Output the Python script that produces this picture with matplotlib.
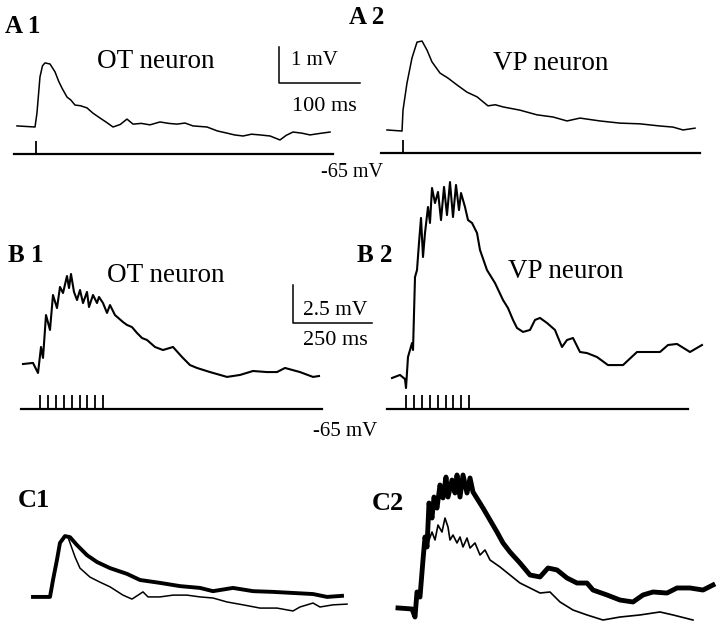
import matplotlib
matplotlib.use("Agg")
import matplotlib.pyplot as plt

W, H = 720, 627
SERIF = "Liberation Serif"

# ---- data: time in ms from first stimulus, membrane potential in mV ----

# A: single stimulus, OT and VP neurons
a1_t = [-23.5, -1.2, 1.2, 4.9, 8.0, 11.1, 17.3, 23.5, 28.0, 32.1, 38.3, 43.0, 48.1, 55.0, 63.0,
        70.0, 79.0, 87.0, 95.1, 104.0, 112.3, 119.8, 130.0, 140.7, 153.1, 164.0, 174.1, 184.0,
        193.8, 211.1, 224.0, 235.8, 245.0, 255.6, 266.0, 276.5, 289.0, 301.2, 309.0, 317.3,
        328.0, 338.3, 350.0, 363.0]
a1_v = [-64.22, -64.25, -63.86, -62.86, -62.55, -62.47, -62.50, -62.72, -62.98, -63.17, -63.42,
        -63.50, -63.64, -63.66, -63.72, -63.86, -64.00, -64.12, -64.25, -64.18, -64.03, -64.17,
        -64.15, -64.19, -64.11, -64.15, -64.17, -64.14, -64.22, -64.25, -64.36, -64.42, -64.47,
        -64.50, -64.45, -64.47, -64.50, -64.61, -64.48, -64.39, -64.42, -64.47, -64.43, -64.39]

a2_t = [-19.8, -1.2, 0.0, 4.9, 11.1, 17.3, 23.5, 29.6, 35.8, 45.7, 55.6, 66.7, 79.0, 91.4,
        104.9, 114.0, 123.5, 144.4, 165.4, 185.2, 202.5, 218.5, 243.2, 267.9, 292.6, 317.3,
        333.3, 345.7, 360.5]
a2_v = [-64.36, -64.39, -63.81, -63.06, -62.36, -61.92, -61.89, -62.14, -62.47, -62.78, -62.92,
        -63.11, -63.31, -63.44, -63.69, -63.66, -63.72, -63.81, -63.94, -64.00, -64.11, -64.03,
        -64.11, -64.17, -64.19, -64.25, -64.28, -64.36, -64.31]

# B: train of 9 stimuli at 40 Hz
b1_t = [-53.8, -22.2, -6.3, 3.2, 9.5, 19.0, 31.6, 41.1, 53.8, 63.3, 72.8, 85.4, 91.8, 98.1,
        107.6, 117.1, 126.6, 136.1, 148.7, 155.1, 167.7, 180.4, 186.7, 199.4, 212.0, 221.5,
        237.3, 262.7, 275.3, 291.1, 307.0, 322.8, 338.6, 363.9, 389.2, 420.9, 449.4, 474.7,
        496.8, 538.0, 591.8, 632.9, 674.1, 718.4, 750.0, 775.3, 822.8, 863.9, 882.9]
b1_v = [-62.04, -61.97, -62.63, -60.92, -61.64, -58.82, -59.80, -57.50, -58.36, -56.97, -57.37,
        -56.25, -57.04, -56.12, -57.30, -57.83, -57.17, -58.03, -57.30, -58.29, -57.50, -58.03,
        -57.63, -58.03, -58.68, -58.16, -58.82, -59.28, -59.47, -59.61, -60.00, -60.33, -60.46,
        -60.92, -61.12, -60.92, -61.58, -62.11, -62.30, -62.57, -62.89, -62.76, -62.50, -62.57,
        -62.57, -62.30, -62.57, -62.89, -62.83]

b2_t = [-44.3, -19.0, -3.2, 0.0, 6.3, 19.0, 22.2, 28.5, 34.8, 41.1, 47.5, 53.8, 60.1, 69.6,
        75.9, 82.3, 91.8, 101.3, 110.8, 120.3, 129.7, 139.2, 148.7, 158.2, 167.7, 174.1, 186.7,
        196.2, 208.9, 224.7, 234.2, 256.3, 281.6, 307.0, 322.8, 338.6, 351.3, 370.3, 392.4,
        408.2, 424.1, 446.2, 471.5, 477.8, 493.7, 509.5, 528.5, 550.6, 572.8, 604.4, 639.2,
        686.7, 731.0, 762.7, 803.8, 829.1, 857.6, 898.7, 936.7]
b2_v = [-62.96, -62.76, -63.03, -63.62, -61.58, -60.66, -61.12, -56.32, -55.86, -54.08, -52.43,
        -55.00, -53.42, -51.71, -52.76, -50.46, -51.45, -50.72, -52.57, -50.39, -52.24, -50.07,
        -52.37, -50.26, -51.91, -50.79, -51.71, -52.57, -52.76, -53.42, -54.54, -55.86, -56.71,
        -57.83, -58.36, -59.14, -59.67, -59.93, -59.80, -59.14, -59.01, -59.34, -59.80, -60.13,
        -60.92, -60.46, -60.33, -61.25, -61.32, -61.58, -62.11, -62.11, -61.25, -61.25, -61.25,
        -60.79, -60.72, -61.25, -60.79]

# C: superimposed responses (thick and thin traces)
c1_thick_t = [-21.0, 0.0, 3.7, 8.6, 12.3, 18.5, 24.7, 33.3, 45.7, 58.0, 74.1, 95.1, 111.1,
              135.8, 160.5, 185.2, 201.2, 225.9, 250.6, 275.3, 300.0, 324.7, 342.0, 360.5]
c1_thick_v = [-64.22, -64.22, -63.75, -63.19, -62.72, -62.53, -62.56, -62.78, -63.06, -63.25,
              -63.42, -63.58, -63.75, -63.83, -63.92, -63.97, -64.06, -63.97, -64.06, -64.08,
              -64.11, -64.14, -64.22, -64.19]
c1_thin_t = [-21.0, 0.0, 3.7, 8.6, 12.3, 18.5, 22.2, 30.9, 37.0, 49.4, 61.7, 74.1, 90.1, 101.2,
             107.4, 114.8, 121.0, 135.8, 151.9, 169.1, 185.2, 201.2, 218.5, 238.3, 259.3, 280.2,
             300.0, 308.6, 324.7, 333.3, 349.4, 366.7]
c1_thin_v = [-64.22, -64.22, -63.75, -63.19, -62.72, -62.53, -62.56, -63.11, -63.42, -63.67,
             -63.81, -63.94, -64.17, -64.28, -64.19, -64.08, -64.22, -64.22, -64.17, -64.17,
             -64.22, -64.25, -64.36, -64.44, -64.53, -64.53, -64.61, -64.50, -64.39, -64.50,
             -64.44, -64.42]

c2_thick_t = [-53.8, -9.5, 0.0, 6.3, 15.8, 25.3, 31.6, 38.0, 44.3, 53.8, 60.1, 69.6, 79.1, 88.6,
              98.1, 104.4, 117.1, 126.6, 132.9, 142.4, 151.9, 164.6, 174.1, 183.5, 199.4, 215.2,
              237.3, 259.5, 278.5, 300.6, 332.3, 363.9, 395.6, 420.9, 449.4, 481.0, 512.7, 544.3,
              563.3, 607.6, 648.7, 689.9, 721.5, 753.2, 797.5, 829.1, 870.3, 911.4, 943.0]
c2_thick_v = [-62.86, -62.96, -63.74, -61.31, -61.80, -58.20, -55.97, -56.94, -52.67, -54.13,
              -52.09, -53.16, -50.92, -52.18, -50.15, -52.09, -50.44, -51.70, -49.95, -52.09,
              -49.95, -51.70, -50.24, -51.60, -52.38, -53.16, -54.32, -55.49, -56.55, -57.43,
              -58.50, -59.66, -59.85, -58.98, -59.17, -59.95, -60.44, -60.44, -61.12, -61.60,
              -62.09, -62.28, -61.60, -61.31, -61.41, -60.92, -60.92, -61.12, -60.63]
c2_thin_t = [-53.8, -9.5, 0.0, 6.3, 15.8, 25.3, 31.6, 41.1, 53.8, 63.3, 72.8, 85.4, 94.9, 104.4,
             110.8, 120.3, 132.9, 142.4, 151.9, 164.6, 174.1, 189.9, 205.7, 221.5, 237.3, 269.0,
             300.6, 332.3, 363.9, 395.6, 427.2, 458.9, 500.0, 544.3, 594.9, 648.7, 712.0, 775.3,
             816.5, 879.7]
c2_thin_v = [-62.86, -62.96, -63.74, -61.31, -61.80, -58.20, -55.97, -56.55, -55.49, -56.26,
             -54.81, -55.49, -54.13, -55.00, -56.26, -55.78, -56.55, -55.97, -56.94, -56.07,
             -57.04, -56.55, -57.72, -57.23, -58.20, -58.88, -59.66, -60.44, -60.92, -61.41,
             -61.31, -62.28, -63.06, -63.54, -64.03, -63.74, -63.54, -63.25, -63.54, -64.03]

# stimulus times and sweep extent of the -65 mV reference line
stim_a = [0]
stim_b = [0, 25, 50, 75, 100, 125, 150, 175, 200]
sweep_a = (-27, 367)
sweep_b = (-60, 892)
v_rest = -65


fig = plt.figure(figsize=(W / 100, H / 100), dpi=100)


def panel_axes(stim_x, ref_y, px_per_ms, px_per_mv):
    # full-figure axes whose data units are ms / mV, anchored on the stimulus and -65 mV line
    ax = fig.add_axes([0, 0, 1, 1])
    ax.set_xlim(-stim_x / px_per_ms, (W - stim_x) / px_per_ms)
    ax.set_ylim(v_rest + (ref_y - H) / px_per_mv, v_rest + ref_y / px_per_mv)
    ax.axis("off")
    ax.patch.set_alpha(0)
    return ax


ka, kva = 0.81, 36.0      # A and C1: px per ms, px per mV
kb, kvb = 0.316, 15.2     # B
kvc2 = 10.3               # C2 vertical

ax_a1 = panel_axes(36, 154, ka, kva)
ax_a2 = panel_axes(403, 153, ka, kva)
ax_b1 = panel_axes(40, 409, kb, kvb)
ax_b2 = panel_axes(406, 409, kb, kvb)
ax_c1 = panel_axes(50, 625, ka, kva)
ax_c2 = panel_axes(415, 630, kb, kvc2)

# A traces
for ax, t, v in [(ax_a1, a1_t, a1_v), (ax_a2, a2_t, a2_v)]:
    ax.plot(t, v, color="black", lw=1.1)
    ax.plot(sweep_a, [v_rest, v_rest], color="black", lw=1.6)
    ax.vlines(stim_a, v_rest, v_rest + 0.36, color="black", lw=1.3)

# B traces
for ax, t, v in [(ax_b1, b1_t, b1_v), (ax_b2, b2_t, b2_v)]:
    ax.plot(t, v, color="black", lw=1.5)
    ax.plot(sweep_b, [v_rest, v_rest], color="black", lw=1.6)
    ax.vlines(stim_b, v_rest, v_rest + 0.92, color="black", lw=1.3)

# C traces
ax_c1.plot(c1_thin_t, c1_thin_v, color="black", lw=1.1)
ax_c1.plot(c1_thick_t, c1_thick_v, color="black", lw=2.8)
ax_c2.plot(c2_thin_t, c2_thin_v, color="black", lw=1.2)
ax_c2.plot(c2_thick_t, c2_thick_v, color="black", lw=3.5)

# scale bars
ax_a1.plot([300, 300, 400], [-62.03, -63.03, -63.03], color="black", lw=1.1, clip_on=False)
ax_b1.plot([800.6, 800.6, 1050.6], [-56.84, -59.34, -59.34], color="black", lw=1.1, clip_on=False)

# text layer in pixel coordinates
tx = fig.add_axes([0, 0, 1, 1])
tx.set_xlim(0, W)
tx.set_ylim(H, 0)
tx.axis("off")
tx.patch.set_alpha(0)


def label(x, y, s, size, bold=False):
    tx.text(x, y, s, fontsize=size, family=SERIF, fontweight="bold" if bold else "normal",
            ha="left", va="baseline")


label(5, 33, "A 1", 18, True)
label(349, 24, "A 2", 18, True)
label(8, 262, "B 1", 18, True)
label(357, 262, "B 2", 18, True)
label(18, 507, "C1", 19, True)
label(372, 510, "C2", 19, True)

label(97, 68, "OT neuron", 19.5)
label(493, 70, "VP neuron", 19.5)
label(107, 282, "OT neuron", 19.5)
label(508, 278, "VP neuron", 19.5)

label(291, 65, "1 mV", 15)
label(292, 111, "100 ms", 16)
label(303, 315, "2.5 mV", 15.5)
label(303, 345, "250 ms", 16)
label(321, 177, "-65 mV", 14.5)
label(313, 436, "-65 mV", 15)

fig.savefig("out.png", dpi=100)
